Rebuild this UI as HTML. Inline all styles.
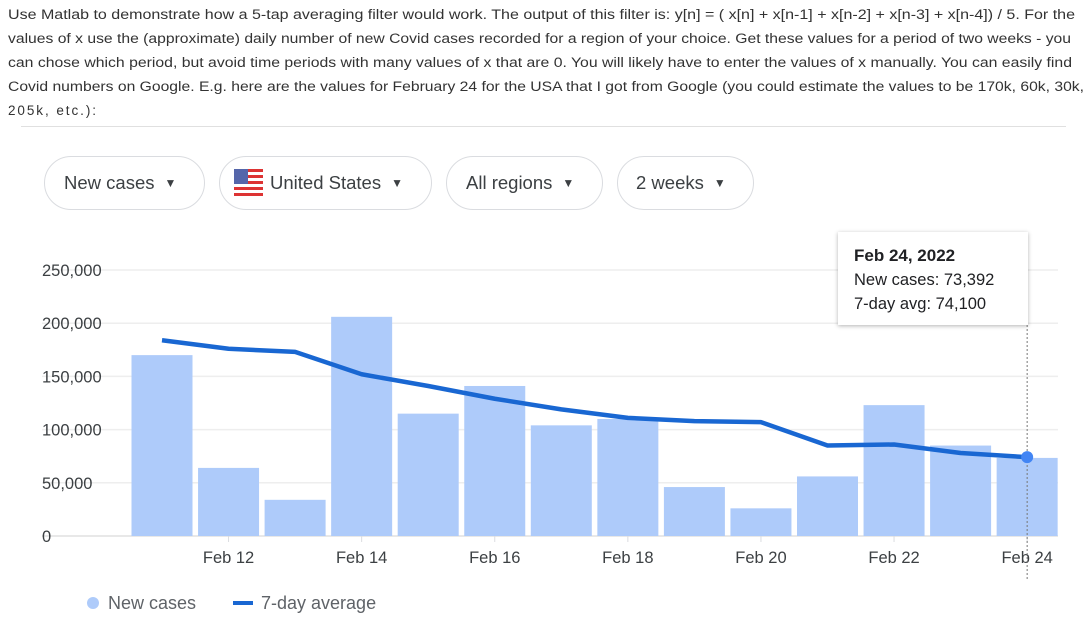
<!DOCTYPE html>
<html><head><meta charset="utf-8"><style>
body{margin:0;width:1089px;height:628px;background:#fff;position:relative;overflow:hidden;font-family:"Liberation Sans",sans-serif}
.sep{position:absolute;left:21px;top:126px;width:1045px;height:1px;background:#e0e0e0}
.pill{position:absolute;top:156px;border:1px solid #dadce0;border-radius:27px;font-size:18.5px;color:#3c4043;line-height:52px;box-sizing:border-box;height:54px}
.pill span.c{font-size:12px;margin-left:10px;vertical-align:2px}
.tip{position:absolute;left:838px;top:232px;width:190px;height:93px;background:#fff;box-shadow:0 1px 4px rgba(0,0,0,.3);box-sizing:border-box;padding:12px 0 0 16px;font-size:16.5px;color:#202124;line-height:24px}
</style></head><body>
<svg style="position:absolute;left:0;top:0" width="1089" height="120" font-family="Liberation Sans, sans-serif" font-size="13.5" fill="#333">
<text x="8" y="19" textLength="1067" lengthAdjust="spacingAndGlyphs">Use Matlab to demonstrate how a 5-tap averaging filter would work. The output of this filter is: y[n] = ( x[n] + x[n-1] + x[n-2] + x[n-3] + x[n-4]) / 5. For the</text>
<text x="8" y="43" textLength="1063" lengthAdjust="spacingAndGlyphs">values of x use the (approximate) daily number of new Covid cases recorded for a region of your choice. Get these values for a period of two weeks - you</text>
<text x="8" y="67" textLength="1064" lengthAdjust="spacingAndGlyphs">can chose which period, but avoid time periods with many values of x that are 0. You will likely have to enter the values of x manually. You can easily find</text>
<text x="8" y="91" textLength="1076" lengthAdjust="spacingAndGlyphs">Covid numbers on Google. E.g. here are the values for February 24 for the USA that I got from Google (you could estimate the values to be 170k, 60k, 30k,</text>
<text x="8" y="115" textLength="88" lengthAdjust="spacing">205k, etc.):</text>
</svg>
<div class="sep"></div>
<div class="pill" style="left:44px;width:161px;padding-left:19px">New cases<span class="c">▼</span></div>
<div class="pill" style="left:219px;width:213px;padding-left:50px"><svg style="position:absolute;left:14px;top:12px" width="29" height="29" viewBox="0 0 29 29"><rect width="29" height="29" rx="3" fill="#fff"/><g fill="#d33"><rect y="0" width="29" height="3"/><rect y="6" width="29" height="3"/><rect y="12" width="29" height="3"/><rect y="18" width="29" height="3"/><rect y="24" width="29" height="3"/></g><rect width="14" height="15" fill="#5566aa"/></svg>United States<span class="c">▼</span></div>
<div class="pill" style="left:446px;width:157px;padding-left:19px">All regions<span class="c">▼</span></div>
<div class="pill" style="left:617px;width:137px;padding-left:18px">2 weeks<span class="c">▼</span></div>
<svg id="chart" style="position:absolute;left:0;top:0" width="1089" height="628"></svg>
<div class="tip"><b style="font-size:17px">Feb 24, 2022</b><br>New cases: 73,392<br>7-day avg: 74,100</div>
<script>
const dates=["Feb 11","Feb 12","Feb 13","Feb 14","Feb 15","Feb 16","Feb 17","Feb 18","Feb 19","Feb 20","Feb 21","Feb 22","Feb 23","Feb 24"];
const newCases=[170000,64000,34000,206000,115000,141000,104000,110000,46000,26000,56000,123000,85000,73392];
const avg7=[184000,176000,173000,152000,141000,129000,119000,111000,108000,107000,85000,86000,78000,74100];
const yTicks=[0,50000,100000,150000,200000,250000];
const yLabels=["0","50,000","100,000","150,000","200,000","250,000"];
const xTickIdx=[1,3,5,7,9,11,13];
const NS="http://www.w3.org/2000/svg";
const svg=document.getElementById('chart');
const y0=536,yTop=270,yMax=250000;
const y=v=>y0-(v/yMax)*(y0-yTop);
const slot=66.55,x=i=>162+i*slot;
function mk(t,a,p){const e=document.createElementNS(NS,t);for(const k in a)e.setAttribute(k,a[k]);(p||svg).appendChild(e);return e;}
yTicks.forEach((v,i)=>{
 const g=mk('line',{x1:42,x2:1058,y1:y(v),y2:y(v),stroke:i?'#eeeeee':'#e0e0e0','stroke-width':1.5});
 
 
 const t=mk('text',{x:42,y:y(v)+6,'font-size':16.5,fill:'#3c4043'});t.textContent=yLabels[i];
 
 
});
newCases.forEach((v,i)=>{
 const r=mk('rect',{x:x(i)-30.5,y:y(v),width:61,height:y0-y(v),fill:'#aecbfa'});
 
 
});
xTickIdx.forEach(i=>{
 mk('line',{x1:x(i),x2:x(i),y1:y0,y2:y0+6,stroke:'#dadce0'});
 const t=mk('text',{x:x(i),y:563,'font-size':16.5,fill:'#3c4043','text-anchor':'middle'});t.textContent=dates[i];
 
 
});
const dl=mk('line',{x1:x(13),x2:x(13),y1:325,y2:580,stroke:'#777','stroke-dasharray':'2,2','stroke-width':1});


const pl=mk('polyline',{points:avg7.map((v,i)=>x(i)+','+y(v)).join(' '),fill:'none',stroke:'#1967d2','stroke-width':4.5,'stroke-linejoin':'round'});


const dot=mk('circle',{cx:x(13),cy:y(avg7[13]),r:6,fill:'#4285f4'});


const l1=mk('circle',{cx:93,cy:603,r:6,fill:'#aecbfa'});


const t1=mk('text',{x:108,y:609,'font-size':18,fill:'#5f6368'});t1.textContent='New cases';


const l2=mk('line',{x1:233,x2:253,y1:603,y2:603,stroke:'#1967d2','stroke-width':4});


const t2=mk('text',{x:261,y:609,'font-size':18,fill:'#5f6368'});t2.textContent='7-day average';


</script>
</body></html>
